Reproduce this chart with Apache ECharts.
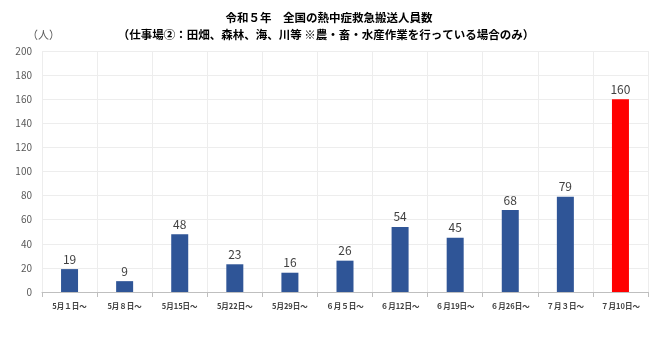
<!DOCTYPE html>
<html>
<head>
<meta charset="utf-8">
<script src="https://cdn.jsdelivr.net/npm/echarts@6/dist/echarts.min.js"></script>
<style>
  html, body { margin: 0; padding: 0; background: #fff; }
  #chart { width: 650px; height: 338px; }
</style>
</head>
<body>
<div id="chart"></div>
<script>
// Weekly counts of heatstroke emergency transports (farms, forests, sea, rivers)
const weeks = ['5月１日～', '5月８日～', '5月15日～', '5月22日～', '5月29日～', '６月５日～', '６月12日～', '６月19日～', '６月26日～', '７月３日～', '７月10日～'];
const persons = [19, 9, 48, 23, 16, 26, 54, 45, 68, 79, 160];
const yTicks = [0, 20, 40, 60, 80, 100, 120, 140, 160, 180, 200];

const normalColor = '#2F5597';
const latestColor = '#FF0000';

const chart = echarts.init(document.getElementById('chart'), null, { renderer: 'canvas' });
const font = '"Noto Sans CJK JP", "Noto Sans", sans-serif';

chart.setOption({
  animation: false,
  backgroundColor: '#ffffff',
  title: [
    {
      text: '令和５年　全国の熱中症救急搬送人員数',
      left: 324, top: 7, textAlign: 'center',
      textStyle: { fontSize: 11.5, fontWeight: 'bold', color: '#000', fontFamily: font }
    },
    {
      text: '（仕事場②：田畑、森林、海、川等 ※農・畜・水産作業を行っている場合のみ）',
      left: 321, top: 24, textAlign: 'center',
      textStyle: { fontSize: 11.5, fontWeight: 'bold', color: '#000', fontFamily: font }
    },
    {
      text: '（人）',
      left: 22, top: 24,
      textStyle: { fontSize: 11, fontWeight: 'normal', color: '#595959', fontFamily: font }
    }
  ],
  grid: { left: 42, right: 2, top: 51, bottom: 46 },
  xAxis: {
    type: 'category',
    data: weeks,
    axisLine: { lineStyle: { color: '#BFBFBF' } },
    axisTick: { show: true, alignWithLabel: false, lineStyle: { color: '#BFBFBF' } },
    splitLine: { show: true, lineStyle: { color: '#EDEDED' } },
    axisLabel: { fontSize: 7.5, color: '#404040', fontWeight: 'bold', fontFamily: font, margin: 10, interval: 0 }
  },
  yAxis: {
    type: 'value',
    min: yTicks[0], max: yTicks[yTicks.length - 1], interval: 20,
    axisLine: { show: false },
    axisTick: { show: false },
    splitLine: { lineStyle: { color: '#EDEDED' } },
    axisLabel: { fontSize: 10, color: '#595959', fontFamily: font, margin: 10 }
  },
  series: [{
    type: 'bar',
    data: persons.map((v, i) => ({
      value: v,
      itemStyle: { color: i === persons.length - 1 ? latestColor : normalColor }
    })),
    barWidth: 17,
    label: { show: true, position: 'top', fontSize: 12, color: '#404040', fontFamily: font, distance: 4 }
  }]
});
</script>
</body>
</html>
